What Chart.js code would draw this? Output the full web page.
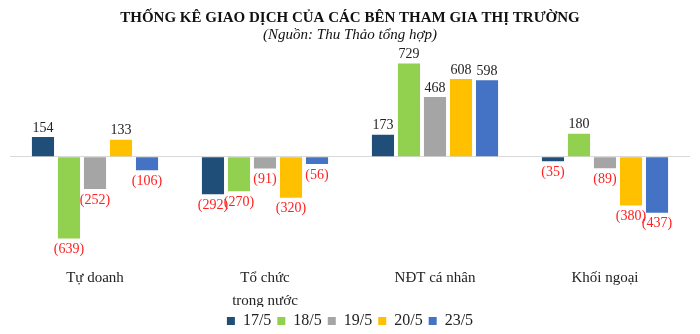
<!DOCTYPE html>
<html><head><meta charset="utf-8">
<script src="https://cdn.jsdelivr.net/npm/chart.js@4/dist/chart.umd.min.js"></script>
<style>html,body{margin:0;padding:0;background:#fff}#wrap{width:700px;height:334px}</style>
</head><body><div id="wrap"><canvas id="c"></canvas></div>
<script>
const categories = [["Tự doanh"], ["Tổ chức", "trong nước"], ["NĐT cá nhân"], ["Khối ngoại"]];
const seriesNames = ["17/5", "18/5", "19/5", "20/5", "23/5"];
const s17 = [154, -292, 173, -35];
const s18 = [-639, -270, 729, 180];
const s19 = [-252, -91, 468, -89];
const s20 = [133, -320, 608, -380];
const s23 = [-106, -56, 598, -437];
const colors = ["#1F4E79", "#92D050", "#A5A5A5", "#FFC000", "#4472C4"];
const allSeries = [s17, s18, s19, s20, s23];
const SERIF = "'Liberation Serif', 'DejaVu Serif', serif";

const labelPlugin = {
  id: 'vals',
  afterDatasetsDraw(chart) {
    const ctx = chart.ctx;
    ctx.save();
    ctx.font = "14px " + SERIF;
    ctx.textAlign = 'center';
    chart.data.datasets.forEach((ds, i) => {
      const meta = chart.getDatasetMeta(i);
      meta.data.forEach((bar, j) => {
        const v = ds.data[j];
        if (v >= 0) {
          ctx.fillStyle = '#222';
          ctx.textBaseline = 'bottom';
          ctx.fillText(String(v), bar.x, bar.y - 2);
        } else {
          ctx.fillStyle = '#FF2020';
          ctx.textBaseline = 'top';
          ctx.fillText('(' + Math.abs(v) + ')', bar.x, bar.y + 4);
        }
      });
    });
    ctx.restore();
  }
};

new Chart(document.getElementById('c'), {
  type: 'bar',
  data: {
    labels: categories,
    datasets: allSeries.map((d, i) => ({
      label: seriesNames[i], data: d, backgroundColor: colors[i],
      borderColor: '#ffffff', borderWidth: 0,
      barPercentage: 0.85, categoryPercentage: 0.765
    }))
  },
  options: {
    responsive: true, maintainAspectRatio: false, animation: false,
    layout: { padding: { left: 10, right: 10, top: 6, bottom: -5 } },
    plugins: {
      title: { display: true, text: 'THỐNG KÊ GIAO DỊCH CỦA CÁC BÊN THAM GIA THỊ TRƯỜNG',
        font: { family: SERIF, size: 15, weight: 'bold', lineHeight: 1.1 }, color: '#111', padding: { top: 4, bottom: 0 } },
      subtitle: { display: true, text: '(Nguồn: Thu Thảo tổng hợp)',
        font: { family: SERIF, size: 15, style: 'italic', lineHeight: 1.2 }, color: '#111', padding: { top: 0, bottom: 12 } },
      legend: { position: 'bottom',
        labels: { font: { family: SERIF, size: 16 }, color: '#222', boxWidth: 8, boxHeight: 8, padding: 6 } },
      tooltip: { enabled: false }
    },
    scales: {
      x: { grid: { display: false, drawTicks: false }, border: { display: false },
        afterFit(s) { s.height = 54; },
        ticks: { font: { family: SERIF, size: 15, lineHeight: 1.55 }, color: '#222', maxRotation: 0, padding: 13 } },
      y: { min: -752, max: 784, afterFit(s) { s.width = 0; },
        ticks: { display: false, stepSize: 100 }, border: { display: false },
        grid: { color: (c) => c.tick && c.tick.value === 0 ? '#D9D9D9' : 'rgba(0,0,0,0)', drawTicks: false } }
    }
  },
  plugins: [labelPlugin]
});
</script></body></html>
